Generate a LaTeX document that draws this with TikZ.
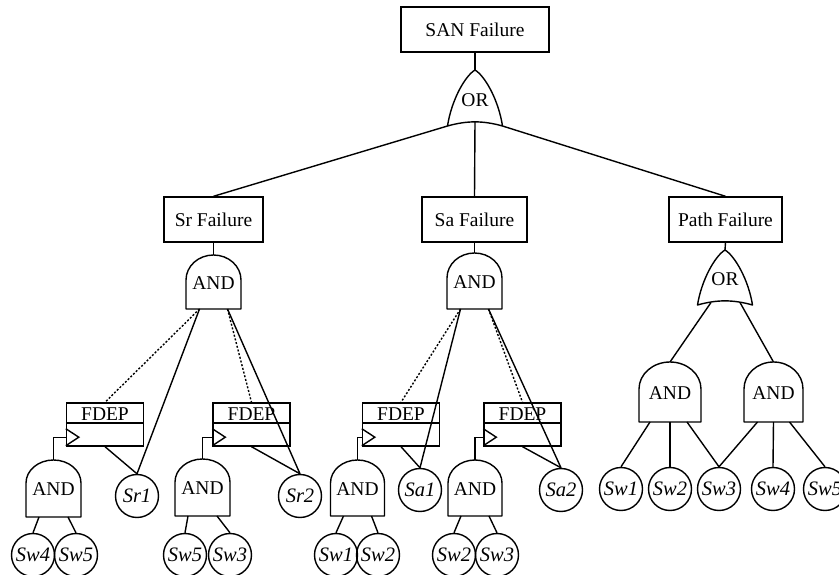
\documentclass[tikz,border=0pt]{standalone}
\usepackage{fontspec}
\setmainfont{Liberation Serif}
\usetikzlibrary{calc}
\newcommand{\gfs}{\fontsize{19.5pt}{20pt}\selectfont}
\newcommand{\gfsi}{\fontsize{20.5pt}{21pt}\selectfont\itshape}
% AND gate: name, cx, top, bottom, half width, arc height
\newcommand{\andgate}[6]{%
  \draw[gate] (#2-#5,#4) -- (#2-#5,#3+#6)
     arc[start angle=180,end angle=0,x radius=#5pt,y radius=#6pt]
     -- (#2+#5,#4) -- cycle;
  \node[glabel] (#1) at (#2,{(#3+#4)/2+1}) {AND};
  \coordinate (#1-t) at (#2,#3);
  \coordinate (#1-b) at (#2,#4);
}
% OR gate: name, cx, top, bottom, half width
\newcommand{\orgate}[5]{%
  \draw[gate] (#2-#5,#4) .. controls (#2-#5+4,#3+30) and (#2-10,#3+6) .. (#2,#3)
     .. controls (#2+10,#3+6) and (#2+#5-4,#3+30) .. (#2+#5,#4)
     .. controls (#2+8,#4-5.5) and (#2-8,#4-5.5) .. (#2-#5,#4) -- cycle;
  \node[glabel] (#1) at (#2,{(#3+#4)/2+2}) {OR};
  \coordinate (#1-t) at (#2,#3);
  \coordinate (#1-bl) at (#2-#5,#4);
  \coordinate (#1-br) at (#2+#5,#4);
  \coordinate (#1-b) at (#2,#4-4);
}
% FDEP gate: name, cx
\newcommand{\fdepbox}[2]{%
  \node[draw,lw,rectangle,minimum width=77pt,minimum height=43pt,inner sep=0pt] (#1) at (#2,424.5) {};
  \draw[lw] ($(#1.west)+(0,-1.5)$) -- ($(#1.east)+(0,-1.5)$);
  \draw[lw,line join=miter] ($(#1.south west)+(0,-18)$) -- ($(#1.south west)+(13,-9.5)$) -- ($(#1.south west)+(0,-1)$);
  \node[glabel] (#1-lab) at ($(#1.north)+(0,12)$) {FDEP};
  \coordinate (#1-in) at ($(#1.south west)+(0,-9.5)$);
}
\begin{document}
\begin{tikzpicture}[x=1pt,y=-1pt,
  lw/.style={line width=1.4pt},
  box/.style={draw,lw,rectangle,minimum height=45pt,inner sep=0pt,font=\gfs},
  gate/.style={draw,lw,line join=round},
  glabel/.style={inner sep=0pt,font=\gfs},
  basic/.style={draw,lw,circle,minimum size=43pt,inner sep=0pt,font=\gfsi},
  link/.style={lw},
  dep/.style={lw,dash pattern=on 2pt off 1.8pt}]
\useasboundingbox (0,0) rectangle (839,575);

% top level
\node[box,minimum width=148pt] (san) at (475,29.5) {SAN Failure};
\orgate{or1}{475}{70}{126}{27.5}
\draw[link] (san.south) -- (or1-t);

\node[box,minimum width=99pt] (sr) at (213.5,219.5) {Sr Failure};
\node[box,minimum width=105pt] (sa) at (474.5,219.5) {Sa Failure};
\node[box,minimum width=113pt] (path) at (725.5,219.5) {Path Failure};
\draw[link] (or1-bl) -- (sr.north);
\draw[link] (or1-b) -- (sa.north);
\draw[link] (or1-br) -- (path.north);

% ---------- Sr subtree
\andgate{srand}{213.5}{255}{309}{27.5}{25}
\draw[link] (sr.south) -- (srand-t);
\fdepbox{f1}{105}
\fdepbox{f2}{251.5}
\node[basic] (sr1) at (137,496) {Sr1};
\node[basic] (sr2) at (300,496) {Sr2};
\draw[dep] ($(srand-b)+(-14,0)$) -- (f1.north);
\draw[link] ($(srand-b)+(-14,0)$) -- (sr1.north);
\draw[dep] ($(srand-b)+(14,0)$) -- (f2.north);
\draw[link] ($(srand-b)+(14,0)$) -- (sr2.north);
\draw[link] (f1.south) -- (sr1.north);
\draw[link] (f2.south) -- (sr2.north);

\andgate{a1}{53.5}{460}{517}{27.5}{23}
\andgate{a2}{202.5}{459}{516}{27.5}{23}
\draw[link] (a1-t) |- (f1-in);
\draw[link] (a2-t) |- (f2-in);
\node[basic] (sw4a) at (33,555) {Sw4};
\node[basic] (sw5a) at (76,555) {Sw5};
\node[basic] (sw5b) at (185,555) {Sw5};
\node[basic] (sw3b) at (230,555) {Sw3};
\draw[link] ($(a1-b)+(-14.5,0)$) -- (sw4a.north);
\draw[link] ($(a1-b)+(14.5,0)$) -- (sw5a.north);
\draw[link] ($(a2-b)+(-14.5,0)$) -- (sw5b.north);
\draw[link] ($(a2-b)+(14.5,0)$) -- (sw3b.north);

% ---------- Sa subtree
\andgate{saand}{474.5}{253}{309}{27.5}{25}
\draw[link] (sa.south) -- (saand-t);
\fdepbox{f3}{401}
\fdepbox{f4}{522.5}
\node[basic] (sa1) at (420,490) {Sa1};
\node[basic] (sa2) at (561,490) {Sa2};
\draw[dep] ($(saand-b)+(-14,0)$) -- (f3.north);
\draw[link] ($(saand-b)+(-14,0)$) -- (sa1.north);
\draw[dep] ($(saand-b)+(14,0)$) -- (f4.north);
\draw[link] ($(saand-b)+(14,0)$) -- (sa2.north);
\draw[link] (f3.south) -- (sa1.north);
\draw[link] (f4.south) -- (sa2.north);

\andgate{a3}{357.5}{460}{516}{27}{23}
\andgate{a4}{475}{460}{516}{27}{23}
\draw[link] (a3-t) |- (f3-in);
\draw[link] (a4-t) |- (f4-in);
\node[basic] (sw1c) at (336,555) {Sw1};
\node[basic] (sw2c) at (378,555) {Sw2};
\node[basic] (sw2d) at (454,555) {Sw2};
\node[basic] (sw3d) at (497,555) {Sw3};
\draw[link] ($(a3-b)+(-14,0)$) -- (sw1c.north);
\draw[link] ($(a3-b)+(14,0)$) -- (sw2c.north);
\draw[link] ($(a4-b)+(-14,0)$) -- (sw2d.north);
\draw[link] ($(a4-b)+(14,0)$) -- (sw3d.north);

% ---------- Path subtree
\orgate{por}{725}{250}{305}{27.5}
\draw[link] (path.south) -- (por-t);
\andgate{pand1}{670}{362}{422}{31}{27}
\andgate{pand2}{773.5}{362}{422}{29.5}{27}
\draw[link] ($(por-b)+(-14,1.5)$) -- (pand1-t);
\draw[link] ($(por-b)+(15,1.5)$) -- (pand2-t);
\node[basic] (psw1) at (621,489) {Sw1};
\node[basic] (psw2) at (670,489) {Sw2};
\node[basic] (psw3) at (719,489) {Sw3};
\node[basic] (psw4) at (773,489) {Sw4};
\node[basic] (psw5) at (825,489) {Sw5};
\draw[link] ($(pand1-b)+(-20,0)$) -- (psw1.north);
\draw[link] (pand1-b) -- (psw2.north);
\draw[link] ($(pand1-b)+(17,0)$) -- (psw3.north);
\draw[link] ($(pand2-b)+(-16,0)$) -- (psw3.north);
\draw[link] (pand2-b) -- (psw4.north);
\draw[link] ($(pand2-b)+(16,0)$) -- (psw5.north);
\end{tikzpicture}
\end{document}
